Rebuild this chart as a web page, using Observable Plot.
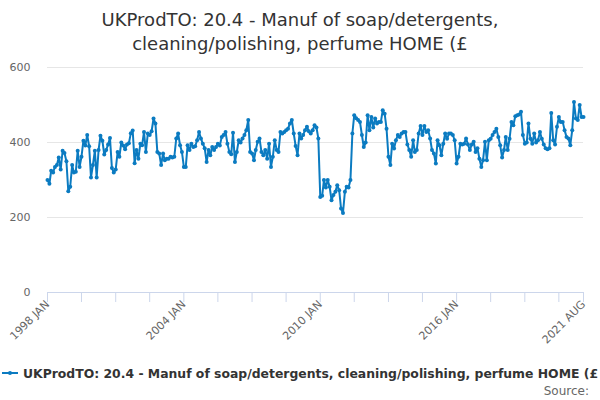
<!DOCTYPE html>
<html><head><meta charset="utf-8">
<script src="https://cdn.jsdelivr.net/npm/d3@7"></script>
<script src="https://cdn.jsdelivr.net/npm/@observablehq/plot@0.6"></script>
<style>
body{margin:0;background:#fff;font-family:"DejaVu Sans",sans-serif;}
#wrap{width:600px;height:400px;position:relative;overflow:hidden;background:#fff;}
#title{position:absolute;top:8px;left:0;width:600px;text-align:center;font-size:18px;line-height:24px;color:#333;}
#chart{position:absolute;top:60px;left:0;}
#legend{position:absolute;top:366px;left:2px;white-space:nowrap;font-size:12.4px;font-weight:bold;color:#333;line-height:16px;}
#legend svg{vertical-align:-1px;margin-right:5px;}
#source{position:absolute;top:384px;right:11px;font-size:12px;color:#666;}
</style></head>
<body>
<div id="wrap">
  <div id="title"></div>
  <div id="chart"></div>
  <div id="legend"><svg width="16" height="12"><line x1="0" y1="6" x2="16" y2="6" stroke="#0b7bc1" stroke-width="2"/><circle cx="8" cy="6" r="2" fill="#0b7bc1"/></svg><span id="legname"></span></div>
  <div id="source">Source:</div>
</div>
<script>
const titleLines = ["UKProdTO: 20.4 - Manuf of soap/detergents,", "cleaning/polishing, perfume HOME (£"];
const seriesName = "UKProdTO: 20.4 - Manuf of soap/detergents, cleaning/polishing, perfume HOME (£";
const startYear = 1998, startMonth = 0; // JAN 1998, monthly
const values = [
300,290,325,320,335,340,360,328,378,372,350,270,
282,340,320,322,378,335,362,405,392,420,390,307,
340,378,307,380,418,405,368,380,395,412,332,320,
328,375,362,400,392,382,395,398,425,432,345,380,
357,397,393,428,375,424,420,430,464,451,375,371,
340,371,353,357,357,362,360,362,411,424,393,375,
335,335,393,380,397,388,390,406,428,411,397,385,
348,380,366,388,380,388,397,392,415,420,428,397,
375,369,426,348,375,406,400,411,420,433,460,375,
371,353,380,402,411,375,366,380,357,397,335,362,
406,380,375,428,424,428,433,437,451,460,424,391,
366,424,411,420,433,442,430,424,433,446,440,411,
255,258,300,280,300,282,246,260,269,286,273,224,
212,269,282,280,300,424,473,465,460,455,420,388,
400,473,433,468,440,464,451,455,455,486,477,437,
362,340,397,384,406,420,415,424,428,428,395,380,
362,406,375,380,424,444,420,444,428,433,411,380,
371,344,406,393,366,397,424,410,424,424,420,406,
344,362,397,395,397,411,395,380,395,402,375,385,
357,335,353,402,353,406,410,420,428,437,415,393,
360,380,415,380,410,455,446,470,473,475,482,420,
397,400,451,410,397,424,400,406,428,410,395,385,
382,385,479,406,395,442,468,455,455,433,415,411,
393,433,508,464,460,500,468,468
];
const yTicks = [0, 200, 400, 600];
const labelMonths = [0, 72, 144, 216, 283];
const labelTexts = ["1998 JAN", "2004 JAN", "2010 JAN", "2016 JAN", "2021 AUG"];
const minorTickStep = 18;

document.getElementById("title").innerHTML = titleLines.join("<br>");
document.getElementById("legname").textContent = seriesName;

const toDate = i => new Date(Date.UTC(startYear, startMonth + i, 1));
const data = values.map((v, i) => ({date: toDate(i), value: v}));
const lastIdx = values.length - 1;
const tickDates = [];
for (let i = 0; i <= lastIdx; i += minorTickStep) tickDates.push(toDate(i));
tickDates.push(toDate(lastIdx));
const labelDates = labelMonths.map(toDate);
const labelFor = d => { const k = labelDates.findIndex(x => +x === +d); return k >= 0 ? labelTexts[k] : ""; };

const color = "#0b7bc1";
const chart = Plot.plot({
  width: 600, height: 300,
  marginTop: 7, marginBottom: 68, marginLeft: 47, marginRight: 17,
  style: {fontFamily: "DejaVu Sans", fontSize: "11px", background: "transparent", color: "#666"},
  x: {type: "utc", domain: [data[0].date, data[lastIdx].date]},
  y: {domain: [0, 600]},
  marks: [
    Plot.gridY([200, 400, 600], {stroke: "#e6e6e6", strokeOpacity: 1}),
    Plot.axisX(tickDates, {tickSize: 10, stroke: "#ccd6eb", strokeOpacity: 1, tickFormat: () => "", label: null}),
    Plot.axisX(labelDates, {tickSize: 0, tickPadding: 10, tickRotate: -45, tickFormat: labelFor, fill: "#666", label: null}),
    Plot.ruleY([0], {stroke: "#ccd6eb"}),
    Plot.axisY(yTicks, {tickSize: 0, tickPadding: 17, fill: "#666", label: null}),
    Plot.lineY(data, {x: "date", y: "value", stroke: color, strokeWidth: 2}),
    Plot.dot(data, {x: "date", y: "value", r: 2, fill: color})
  ]
});
document.getElementById("chart").appendChild(chart);
</script>
</body></html>
